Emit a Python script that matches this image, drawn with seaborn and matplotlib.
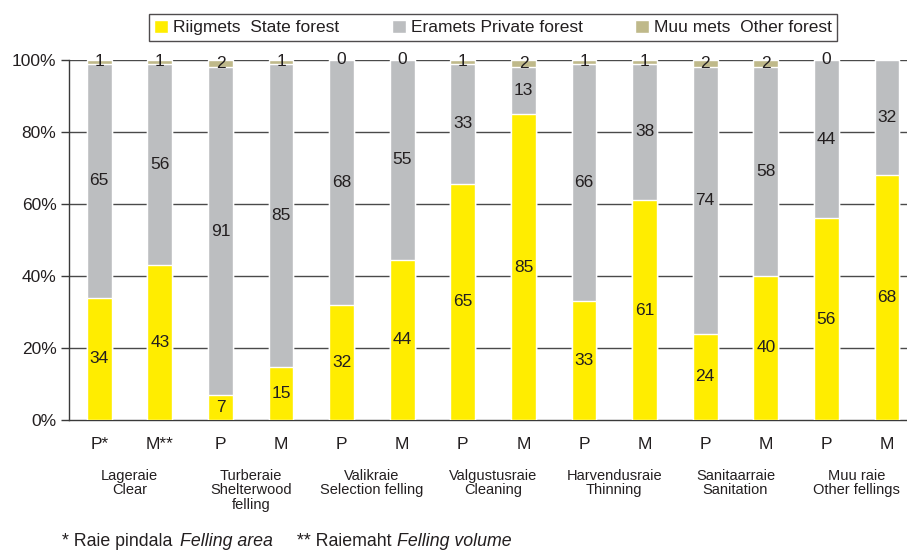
import numpy as np
import pandas as pd
import matplotlib
matplotlib.use("Agg")
import matplotlib.pyplot as plt
import seaborn as sns

sns.set_style("white")
plt.rcParams['font.family'] = ['Liberation Sans', 'DejaVu Sans']

# data (labels as printed on bars)
bar_labels = ["P*", "M**", "P", "M", "P", "M", "P", "M", "P", "M", "P", "M", "P", "M"]
state = [34, 43, 7, 15, 32, 44, 65, 85, 33, 61, 24, 40, 56, 68]
private = [65, 56, 91, 85, 68, 55, 33, 13, 66, 38, 74, 58, 44, 32]
other = [1, 1, 2, 1, 0, 0, 1, 2, 1, 1, 2, 2, 0, None]
groups = ["Lageraie\nClear", "Turberaie\nShelterwood\nfelling", "Valikraie\nSelection felling",
          "Valgustusraie\nCleaning", "Harvendusraie\nThinning", "Sanitaarraie\nSanitation",
          "Muu raie\nOther fellings"]

c_state, c_priv, c_other = "#FFED00", "#BCBEC0", "#BFB98A"
txt = "#231F20"

oth = [o if o is not None else 0 for o in other]
tot = np.array(state) + np.array(private) + np.array(oth)
df = pd.DataFrame({
    "pos": range(len(state)),
    "state": np.array(state) / tot * 100,
    "private": np.array(private) / tot * 100,
    "other": np.array(oth) / tot * 100,
})
df["top2"] = df["state"] + df["private"]
df["top3"] = df["top2"] + df["other"]

fig = plt.figure(figsize=(9.07, 5.5), dpi=100)
ax = fig.add_axes([69 / 907, 130 / 550, (907 - 69) / 907, 360 / 550])

# gridlines behind bars
for v in range(20, 101, 20):
    ax.axhline(v, color="#4a4a4a", lw=1.0, zorder=0)

w = 0.41
sns.barplot(data=df, x="pos", y="top3", color=c_other, width=w, saturation=1, ax=ax, zorder=2,
            label="Muu mets  Other forest")
sns.barplot(data=df, x="pos", y="top2", color=c_priv, width=w, saturation=1, ax=ax, zorder=3,
            label="Eramets Private forest")
sns.barplot(data=df, x="pos", y="state", color=c_state, width=w, saturation=1, ax=ax, zorder=4,
            label="Riigmets  State forest")
handles, labels = ax.get_legend_handles_labels()
if ax.get_legend() is not None:
    ax.get_legend().remove()

fs = 12.5
for i, r in df.iterrows():
    ax.text(i, r["state"] / 2, str(state[i]), ha="center", va="center", fontsize=fs, color=txt, zorder=5)
    ax.text(i, r["state"] + r["private"] / 2, str(private[i]), ha="center", va="center",
            fontsize=fs, color=txt, zorder=5)
    if other[i] is not None:
        ax.text(i, r["top2"] + r["other"] / 2, str(other[i]), ha="center", va="center",
                fontsize=fs, color=txt, zorder=5)

ax.set_xlim(-0.5, 13.33)
ax.set_ylim(0, 100)
ax.set_yticks(range(0, 101, 20))
ax.set_yticklabels([f"{v}%" for v in range(0, 101, 20)], fontsize=12.5, color=txt)
ax.set_xticks(range(len(bar_labels)))
ax.set_xticklabels(bar_labels, fontsize=12.5, color=txt)
ax.tick_params(axis="x", which="major", length=0, pad=12)
ax.set_xticks(np.arange(1.5, 13, 2), minor=True)
ax.tick_params(axis="x", which="minor", length=5, width=1, color="#3a3a3a", direction="out")
ax.tick_params(axis="y", length=6, width=1, color="#3a3a3a", direction="out", pad=3, left=True)
ax.set_xlabel("")
ax.set_ylabel("")
for s in ["top", "right"]:
    ax.spines[s].set_visible(False)
for s in ["left", "bottom"]:
    ax.spines[s].set_color("#3a3a3a")
    ax.spines[s].set_linewidth(1.0)

trans = ax.get_xaxis_transform()
for g, name in enumerate(groups):
    ax.text(2 * g + 0.5, -0.135, name, transform=trans, ha="center", va="top",
            fontsize=10.5, color=txt, linespacing=1.05)

order = [2, 1, 0]
leg = fig.legend([handles[k] for k in order], [labels[k] for k in order], loc="center",
                 bbox_to_anchor=(493 / 907, 1 - 27.5 / 550), ncol=3, frameon=True, fancybox=False,
                 edgecolor="#231F20", fontsize=12.5, handlelength=0.8, handleheight=0.8,
                 handletextpad=0.3, columnspacing=3.0, borderpad=0.3, borderaxespad=0)
leg.get_frame().set_linewidth(1.0)
for t in leg.get_texts():
    t.set_color(txt)

yf = 1 - 546 / 550
fs2 = 12.8
fig.text(62 / 907, yf, "* Raie pindala", fontsize=fs2, color=txt, va="baseline")
fig.text(180 / 907, yf, "Felling area", fontsize=fs2, color=txt, va="baseline", style="italic")
fig.text(297 / 907, yf, "** Raiemaht", fontsize=fs2, color=txt, va="baseline")
fig.text(397 / 907, yf, "Felling volume", fontsize=fs2, color=txt, va="baseline", style="italic")

fig.savefig("out.png", dpi=100)
